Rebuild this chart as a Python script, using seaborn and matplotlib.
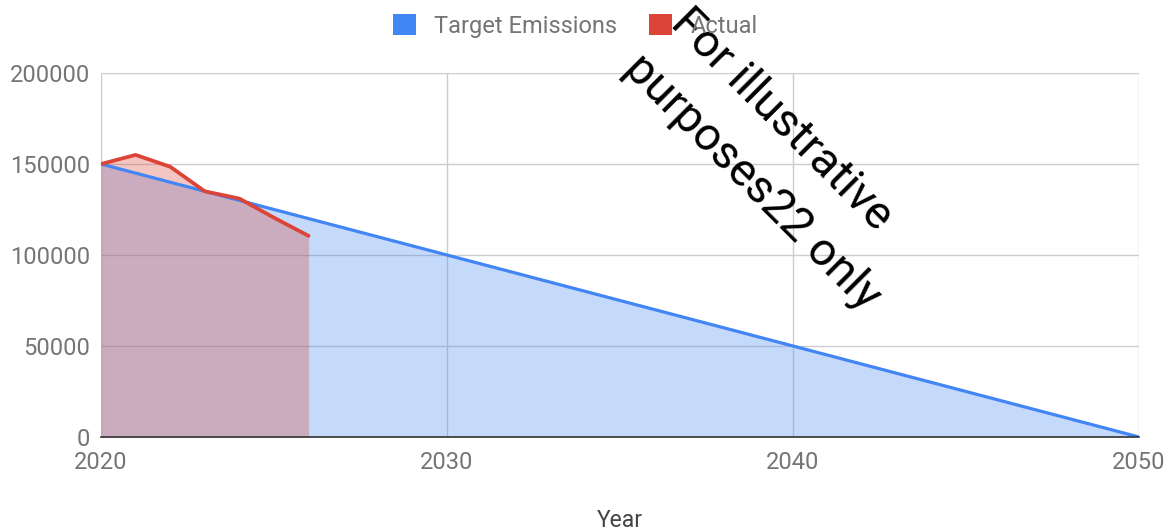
import matplotlib
matplotlib.use("Agg")
import matplotlib.pyplot as plt
import seaborn as sns
import pandas as pd
from matplotlib.patches import Patch

# ---- data ----
target_years = [2020, 2030, 2040, 2050]
target_values = [150000, 100000, 50000, 0]
actual_years = [2020, 2021, 2022, 2023, 2024, 2025, 2026]
actual_values = [150000, 155000, 148500, 135000, 131000, 120500, 110500]
x_ticks = [2020, 2030, 2040, 2050]
y_ticks = [0, 50000, 100000, 150000, 200000]
series_names = ["Target Emissions", "Actual"]
watermark_lines = ["For illustrative", "purposes22 only"]

BLUE = "#4285F4"
RED = "#DB4437"
W, H = 1172, 530

sns.set_style("white")
plt.rcParams["font.family"] = ["Roboto", "DejaVu Sans"]

fig = plt.figure(figsize=(W / 100, H / 100), dpi=100)
ax = fig.add_axes([101 / W, 1 - 437 / H, (1139 - 101) / W, (437 - 73) / H])

df_t = pd.DataFrame({"Year": target_years, "Value": target_values})
df_a = pd.DataFrame({"Year": actual_years, "Value": actual_values})

ax.fill_between(df_t["Year"], df_t["Value"], 0, color=BLUE, alpha=0.3, linewidth=0, zorder=2)
ax.fill_between(df_a["Year"], df_a["Value"], 0, color=RED, alpha=0.3, linewidth=0, zorder=3)
sns.lineplot(data=df_t, x="Year", y="Value", color=BLUE, linewidth=2.3, ax=ax, zorder=4)
sns.lineplot(data=df_a, x="Year", y="Value", color=RED, linewidth=2.7, ax=ax, zorder=5)

ax.set_xlim(2020, 2050)
ax.set_ylim(0, 200000)
ax.set_xticks(x_ticks)
ax.set_yticks(y_ticks)
ax.set_xticklabels([str(v) for v in x_ticks])
ax.set_yticklabels([str(v) for v in y_ticks])
ax.grid(True, color="#cccccc", linewidth=1.0, zorder=1)
ax.set_axisbelow(True)
for s in ["top", "right", "left"]:
    ax.spines[s].set_visible(False)
ax.spines["bottom"].set_color("#333333")
ax.spines["bottom"].set_linewidth(1.2)
ax.spines["bottom"].set_zorder(6)
ax.tick_params(axis="both", length=0, labelsize=17, labelcolor="#757575")
ax.tick_params(axis="y", pad=8)
ax.tick_params(axis="x", pad=10)
ax.set_ylabel("")
ax.set_xlabel("Year", fontsize=16.5, color="#444444", va="top")
ax.xaxis.set_label_coords(0.5, (437 - 509) / 364)

handles = [Patch(facecolor=BLUE, edgecolor="none"), Patch(facecolor=RED, edgecolor="none")]
fig.legend(handles, series_names, loc="center", bbox_to_anchor=(575 / W, 1 - 26 / H),
           ncol=2, frameon=False, fontsize=17, labelcolor="#757575",
           handlelength=1.0, handleheight=1.0, handletextpad=0.75, columnspacing=1.35)

# watermark, two lines left-aligned along a -45 degree baseline
starts = [(669, 25), (622, 71)]
for (px, py), line in zip(starts, watermark_lines):
    fig.text(px / W, 1 - py / H, line, fontsize=33.5, color="black",
             rotation=-45, rotation_mode="anchor", ha="left", va="baseline")

fig.savefig("out.png", dpi=100)
